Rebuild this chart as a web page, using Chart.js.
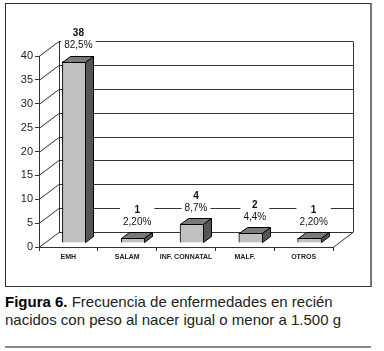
<!DOCTYPE html>
<html>
<head>
<meta charset="utf-8">
<script src="https://cdn.jsdelivr.net/npm/chart.js@4"></script>
<style>
  body { margin: 0; background: #fff; font-family: "Liberation Sans", Arial, sans-serif; }
  #page { position: relative; width: 384px; height: 351px; overflow: hidden; }
  #box { position: absolute; left: 5px; top: 3px; width: 364px; height: 282px;
         border: 1px solid #333; border-right: 2px solid #777; }
  #chart { position: absolute; left: 0; top: 0; }
  #caption { position: absolute; left: 5px; top: 293px; font-size: 15px; line-height: 18px; color: #222; white-space: nowrap; }
  #caption b { color: #000; }
  #rule { position: absolute; left: 5px; top: 346px; width: 366px; height: 2px; background: #888; }
</style>
</head>
<body>
<div id="page">
  <div id="box"></div>
  <canvas id="chart" width="384" height="290"></canvas>
  <div id="caption"><b>Figura 6.</b> Frecuencia de enfermedades en recién<br>nacidos con peso al nacer igual o menor a 1.500 g</div>
  <div id="rule"></div>
</div>
<script>
const categories = ['EMH', 'SALAM', 'INF. CONNATAL', 'MALF.', 'OTROS'];
const counts = [38, 1, 4, 2, 1];
const percents = ['82,5%', '2,20%', '8,7%', '4,4%', '2,20%'];
const yMax = 40;
const yStep = 5;

// 3d offsets
const WALL_DX = 20, WALL_DY = -15;
const BAR_DX = 6, BAR_DY = -4;
const DEPTH_DX = 8, DEPTH_DY = -6;

const wallPlugin = {
  id: 'wall',
  beforeDatasetsDraw(chart) {
    const ctx = chart.ctx;
    const y = chart.scales.y;
    const area = chart.chartArea;
    ctx.save();
    ctx.strokeStyle = '#333';
    ctx.lineWidth = 1;
    ctx.beginPath();
    for (let v = 0; v <= yMax; v += yStep) {
      const py = Math.round(y.getPixelForValue(v)) + 0.5;
      // side wall diagonal
      ctx.moveTo(area.left, py);
      ctx.lineTo(area.left + WALL_DX, py + WALL_DY);
      // back wall line
      ctx.moveTo(area.left + WALL_DX, py + WALL_DY);
      ctx.lineTo(area.right + WALL_DX, py + WALL_DY);
    }
    const top = Math.round(y.getPixelForValue(yMax)) + 0.5 + WALL_DY;
    const bot = Math.round(y.getPixelForValue(0)) + 0.5;
    ctx.moveTo(area.left + WALL_DX + 0.5, top);
    ctx.lineTo(area.left + WALL_DX + 0.5, bot + WALL_DY);
    ctx.moveTo(area.right + WALL_DX + 0.5, top);
    ctx.lineTo(area.right + WALL_DX + 0.5, bot + WALL_DY);
    // floor right edge
    ctx.moveTo(area.right, bot);
    ctx.lineTo(area.right + WALL_DX, bot + WALL_DY);
    ctx.stroke();
    ctx.restore();
  },
  beforeDatasetDraw(chart) {
    chart.ctx.save();
    chart.ctx.translate(BAR_DX, BAR_DY);
  },
  afterDatasetDraw(chart, args) {
    const ctx = chart.ctx;
    ctx.strokeStyle = '#000';
    ctx.lineWidth = 1;
    args.meta.data.forEach(bar => {
      const p = bar.getProps(['x', 'y', 'base', 'width'], true);
      const l = Math.round(p.x - p.width / 2) + 0.5;
      const r = Math.round(p.x + p.width / 2) - 0.5;
      const t = Math.round(p.y) + 0.5;
      const b = Math.round(p.base) - 0.5;
      // top face
      ctx.beginPath();
      ctx.moveTo(l, t);
      ctx.lineTo(l + DEPTH_DX, t + DEPTH_DY);
      ctx.lineTo(r + DEPTH_DX, t + DEPTH_DY);
      ctx.lineTo(r, t);
      ctx.closePath();
      ctx.fillStyle = '#7a7a7a';
      ctx.fill();
      ctx.stroke();
      // side face
      ctx.beginPath();
      ctx.moveTo(r, t);
      ctx.lineTo(r + DEPTH_DX, t + DEPTH_DY);
      ctx.lineTo(r + DEPTH_DX, b + DEPTH_DY);
      ctx.lineTo(r, b);
      ctx.closePath();
      ctx.fillStyle = '#555';
      ctx.fill();
      ctx.stroke();
    });
    ctx.restore();
  },
  afterDatasetsDraw(chart) {
    const ctx = chart.ctx;
    const meta = chart.getDatasetMeta(0);
    ctx.save();
    ctx.textAlign = 'center';
    ctx.textBaseline = 'middle';
    meta.data.forEach((bar, i) => {
      const p = bar.getProps(['x', 'y'], true);
      const cx = p.x + BAR_DX + DEPTH_DX / 2;
      const topY = p.y + BAR_DY + DEPTH_DY;
      const y2 = topY - 10, y1 = topY - 22;
      ctx.font = '10px "Liberation Sans", Arial, sans-serif';
      const w = Math.max(ctx.measureText(percents[i]).width, 8) + 6;
      ctx.fillStyle = '#fff';
      ctx.fillRect(cx - w / 2, y1 - 7, w, y2 - y1 + 13);
      ctx.fillStyle = '#111';
      ctx.fillText(percents[i], cx, y2);
      ctx.font = 'bold 10px "Liberation Sans", Arial, sans-serif';
      ctx.fillText(String(counts[i]), cx, y1);
    });
    ctx.restore();
  }
};

const ctx = document.getElementById('chart').getContext('2d');
new Chart(ctx, {
  type: 'bar',
  data: {
    labels: categories,
    datasets: [{
      data: counts,
      backgroundColor: '#c0c0c0',
      borderColor: '#000',
      borderWidth: 1,
      barThickness: 24,
    }],
  },
  options: {
    responsive: false,
    animation: false,
    devicePixelRatio: 1,
    layout: { padding: { top: 56, right: 51, bottom: 0, left: 0 } },
    plugins: { legend: { display: false }, tooltip: { enabled: false } },
    scales: {
      y: {
        min: 0,
        max: yMax,
        ticks: {
          stepSize: yStep,
          color: '#222',
          padding: 2,
          font: { family: '"Liberation Sans", Arial, sans-serif', size: 11 },
        },
        grid: { drawOnChartArea: false, tickLength: 4, color: '#333' },
        border: { color: '#333' },
        afterFit(scale) { scale.width = 39; },
      },
      x: {
        ticks: {
          color: '#222',
          padding: 2,
          maxRotation: 0,
          autoSkip: false,
          font: { family: '"Liberation Sans", Arial, sans-serif', size: 7, weight: 'bold' },
        },
        grid: { drawOnChartArea: false, tickLength: 4, color: '#333', offset: true },
        border: { color: '#333' },
        afterFit(scale) { scale.height = 43; },
      },
    },
  },
  plugins: [wallPlugin],
});
</script>
</body>
</html>
